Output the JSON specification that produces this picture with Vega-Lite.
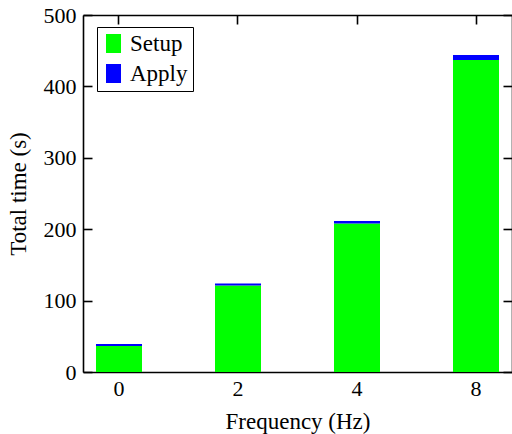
{
  "$schema": "https://vega.github.io/schema/vega-lite/v6.json",
  "width": 429,
  "height": 357,
  "autosize": {"type": "none"},
  "padding": {"left": 83, "top": 15, "right": 0, "bottom": 62},
  "background": "white",
  "config": {
    "font": "Liberation Serif",
    "view": {"stroke": null},
    "axis": {
      "grid": false,
      "domainColor": "black",
      "domainWidth": 1.6,
      "tickColor": "black",
      "tickWidth": 1.6,
      "tickSize": -9,
      "labelColor": "black",
      "titleColor": "black",
      "labelFont": "Liberation Serif",
      "titleFont": "Liberation Serif",
      "labelFontSize": 22,
      "titleFontSize": 23,
      "titleFontWeight": "normal",
      "zindex": 1
    }
  },
  "data": {
    "values": [
      {"freq": "0", "series": "Setup", "time": 36.4},
      {"freq": "0", "series": "Apply", "time": 2.8},
      {"freq": "2", "series": "Setup", "time": 121},
      {"freq": "2", "series": "Apply", "time": 2.8},
      {"freq": "4", "series": "Setup", "time": 208},
      {"freq": "4", "series": "Apply", "time": 3.6},
      {"freq": "8", "series": "Setup", "time": 437},
      {"freq": "8", "series": "Apply", "time": 7}
    ]
  },
  "layer": [
    {
      "mark": {"type": "bar"},
      "encoding": {
        "x": {
          "field": "freq",
          "type": "nominal",
          "sort": ["0", "2", "4", "8"],
          "scale": {"paddingInner": 0.6134, "paddingOuter": 0.1092},
          "axis": {"orient": "bottom", "title": "Frequency (Hz)", "labelAngle": 0, "labelPadding": 6, "titlePadding": 11, "ticks": false}
        },
        "y": {
          "field": "time",
          "type": "quantitative",
          "stack": "zero",
          "scale": {"domain": [0, 500], "nice": false},
          "axis": {"orient": "left", "title": "Total time (s)", "values": [0, 100, 200, 300, 400, 500], "labelPadding": 16, "titlePadding": 13}
        },
        "color": {
          "field": "series",
          "type": "nominal",
          "scale": {"domain": ["Setup", "Apply"], "range": ["#00ff00", "#0000ff"]},
          "legend": {
            "title": null,
            "orient": "none",
            "legendX": 14,
            "legendY": 12,
            "strokeColor": "black",
            "fillColor": "white",
            "padding": 5,
            "symbolType": "M-0.79,-1H0.79V1H-0.79Z",
            "symbolSize": 361,
            "symbolStrokeWidth": 0,
            "symbolOpacity": 1,
            "labelFont": "Liberation Serif",
            "labelFontSize": 23,
            "labelColor": "black",
            "labelOffset": 5,
            "rowPadding": 6
          }
        },
        "order": {"field": "series", "sort": "descending"}
      }
    },
    {
      "mark": {"type": "bar", "opacity": 0},
      "encoding": {
        "x": {
          "field": "freq",
          "type": "nominal",
          "sort": ["0", "2", "4", "8"],
          "axis": {"orient": "top", "title": null, "labels": false}
        },
        "y": {
          "field": "time",
          "type": "quantitative",
          "stack": "zero",
          "axis": {"orient": "right", "title": null, "labels": false, "values": [0, 100, 200, 300, 400, 500]}
        }
      }
    }
  ],
  "resolve": {"axis": {"x": "independent", "y": "independent"}}
}
